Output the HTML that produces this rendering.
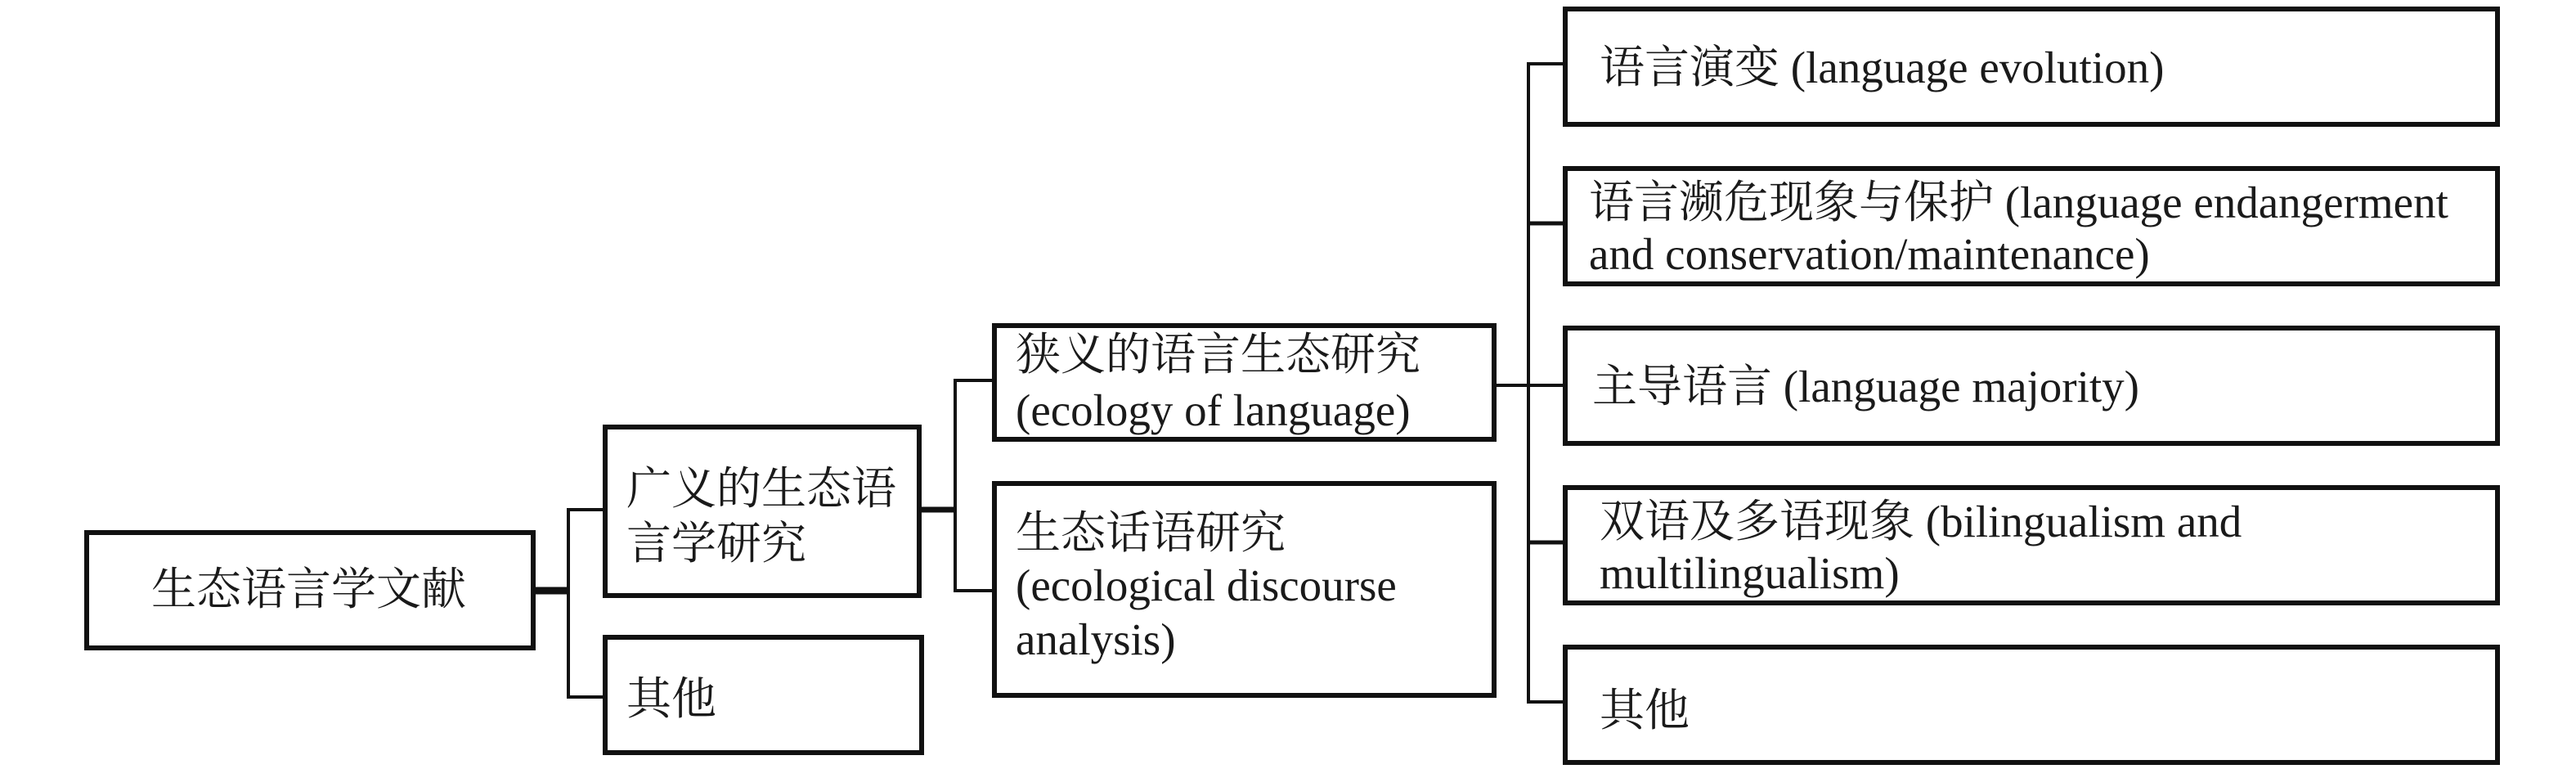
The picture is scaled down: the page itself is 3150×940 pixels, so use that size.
<!DOCTYPE html>
<html><head><meta charset="utf-8"><style>
html,body{margin:0;padding:0;background:#fff;}
svg text{font-family:"Liberation Serif","Noto Serif CJK SC",serif;font-size:55px;fill:#1a1a1a;}
</style></head><body>
<svg width="3150" height="935" viewBox="0 0 3150 935" xmlns="http://www.w3.org/2000/svg">
<g fill="none" stroke="#111" stroke-width="6">
<rect x="106" y="651" width="546" height="141"/>
<rect x="740" y="522" width="384" height="206"/>
<rect x="740" y="779" width="387" height="141"/>
<rect x="1216" y="398" width="611" height="139"/>
<rect x="1216" y="591" width="611" height="259"/>
<rect x="1914" y="11" width="1140" height="141"/>
<rect x="1914" y="206" width="1140" height="141"/>
<rect x="1914" y="401" width="1140" height="141"/>
<rect x="1914" y="596" width="1140" height="141"/>
<rect x="1914" y="791" width="1140" height="141"/>
</g>
<g fill="none" stroke="#111" stroke-width="4">
<line x1="652" y1="722" x2="695" y2="722" stroke-width="9"/>
<polyline points="740,623 695,623 695,852 740,852"/>
<line x1="1124" y1="623" x2="1168" y2="623" stroke-width="7"/>
<polyline points="1216,465 1168,465 1168,722 1216,722"/>
<line x1="1827" y1="471" x2="1869" y2="471"/>
<polyline points="1914,78 1869,78 1869,858 1914,858"/>
<line x1="1869" y1="273" x2="1914" y2="273" stroke-width="5"/>
<line x1="1869" y1="471" x2="1914" y2="471"/>
<line x1="1869" y1="663" x2="1914" y2="663" stroke-width="5"/>
</g>
<text x="185" y="739">生态语言学文献</text>
<text x="766" y="616">广义的生态语</text>
<text x="766" y="683">言学研究</text>
<text x="766" y="873">其他</text>
<text x="1242" y="452">狭义的语言生态研究</text>
<text x="1242" y="520">(ecology of language)</text>
<text x="1242" y="670">生态话语研究</text>
<text x="1242" y="734">(ecological discourse</text>
<text x="1242" y="800">analysis)</text>
<text x="1956" y="101">语言演变 (language evolution)</text>
<text x="1943" y="266">语言濒危现象与保护 (language endangerment</text>
<text x="1943" y="329">and conservation/maintenance)</text>
<text x="1947" y="491">主导语言 (language majority)</text>
<text x="1956" y="656">双语及多语现象 (bilingualism and</text>
<text x="1956" y="719">multilingualism)</text>
<text x="1956" y="887">其他</text>
</svg>
</body></html>
